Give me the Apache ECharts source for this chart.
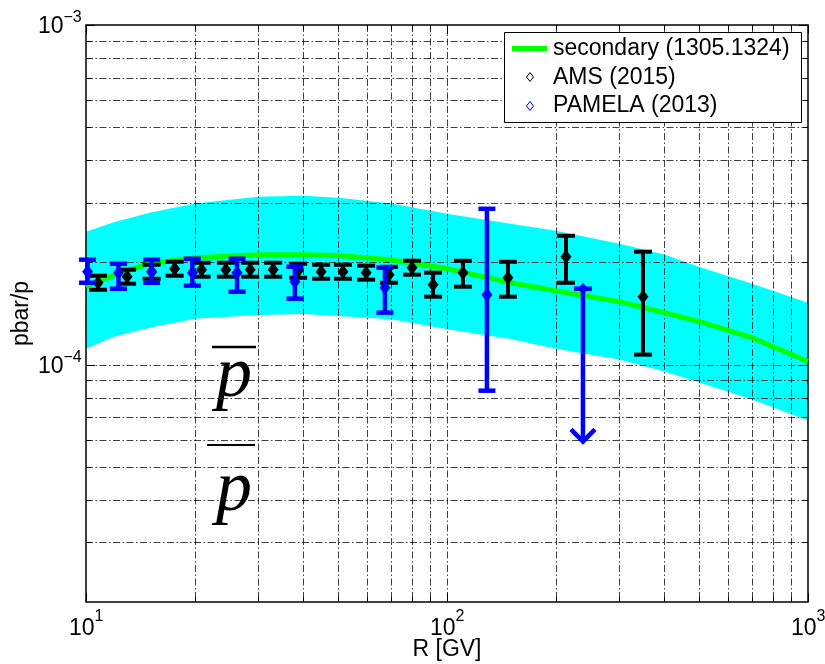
<!DOCTYPE html>
<html><head><meta charset="utf-8">
<script src="https://cdn.jsdelivr.net/npm/echarts@6/dist/echarts.min.js"></script>
<style>html,body{margin:0;padding:0;background:#fff}#c{width:825px;height:664px}</style>
</head><body><div id="c"></div>
<script>
// ---- axis ranges / ticks ----
const xMin = 10, xMax = 1000, yMin = 2e-5, yMax = 1e-3;
const xMajor = [10, 100, 1000];
const xMinor = [20,30,40,50,60,70,80,90,200,300,400,500,600,700,800,900];
const yMajor = [1e-4, 1e-3];
const yMinor = [3e-5,4e-5,5e-5,6e-5,7e-5,8e-5,9e-5,2e-4,3e-4,4e-4,5e-4,6e-4,7e-4,8e-4,9e-4];
const xLabelExp = [1, 2, 3];
const yLabelExp = [-4, -3];

// ---- secondary model (1305.1324): central curve and uncertainty band ----
const modelR   = [10,12,15,20,30,40,50,70,100,150,200,300,400,500,700,1000];
const modelMid = [1.696e-4,1.840e-4,1.982e-4,2.065e-4,2.108e-4,2.108e-4,2.094e-4,2.037e-4,1.916e-4,1.743e-4,1.651e-4,1.533e-4,1.423e-4,1.338e-4,1.200e-4,1.021e-4];
const modelHi  = [2.46e-4,2.63e-4,2.80e-4,2.98e-4,3.12e-4,3.14e-4,3.10e-4,2.98e-4,2.78e-4,2.60e-4,2.48e-4,2.27e-4,2.11e-4,1.94e-4,1.73e-4,1.52e-4];
const modelLo  = [1.114e-4,1.21e-4,1.285e-4,1.365e-4,1.40e-4,1.41e-4,1.39e-4,1.36e-4,1.27e-4,1.19e-4,1.114e-4,1.035e-4,9.54e-5,8.86e-5,7.89e-5,6.85e-5];

// ---- AMS (2015) ----
const amsR   = [10.8,13.0,15.2,17.6,20.9,24.4,28.5,33.0,38.7,44.8,51.5,59.7,69.1,80.0,91.5,110.7,147.5,213.6,349];
const amsVal = [1.742e-4,1.815e-4,1.877e-4,1.916e-4,1.903e-4,1.903e-4,1.903e-4,1.903e-4,1.890e-4,1.877e-4,1.877e-4,1.865e-4,1.839e-4,1.929e-4,1.719e-4,1.865e-4,1.803e-4,2.078e-4,1.585e-4];
const amsLo  = [1.661e-4,1.731e-4,1.790e-4,1.827e-4,1.815e-4,1.815e-4,1.815e-4,1.815e-4,1.802e-4,1.790e-4,1.790e-4,1.779e-4,1.742e-4,1.840e-4,1.585e-4,1.696e-4,1.585e-4,1.742e-4,1.070e-4];
const amsHi  = [1.827e-4,1.903e-4,1.968e-4,2.009e-4,1.995e-4,1.995e-4,1.995e-4,1.995e-4,1.982e-4,1.968e-4,1.968e-4,1.956e-4,1.941e-4,2.023e-4,1.865e-4,2.022e-4,2.008e-4,2.395e-4,2.150e-4];

// ---- PAMELA (2013) ----
const pamR   = [10.1,12.3,15.2,19.7,26.2,37.9,67.3,129];
const pamVal = [1.877e-4,1.865e-4,1.877e-4,1.865e-4,1.865e-4,1.755e-4,1.684e-4,1.607e-4];
const pamLo  = [1.742e-4,1.673e-4,1.742e-4,1.708e-4,1.639e-4,1.564e-4,1.423e-4,0.838e-4];
const pamHi  = [2.037e-4,1.982e-4,2.037e-4,2.050e-4,2.050e-4,1.943e-4,1.929e-4,2.876e-4];
// upper limit point: [R, top, arrow tip]
const pamLimR = [238];
const pamLimTop = [1.673e-4];
const pamLimTip = [5.94e-5];

const FONT = '"Liberation Sans", Helvetica, Arial, sans-serif';
const SERIF = 'italic 72px "Liberation Serif", "Times New Roman", serif';

const chart = echarts.init(document.getElementById('c'), null, {renderer: 'canvas'});

function bandRender(params, api) {
  const pts = [];
  for (let i = 0; i < modelR.length; i++) pts.push(api.coord([modelR[i], modelHi[i]]));
  for (let i = modelR.length - 1; i >= 0; i--) pts.push(api.coord([modelR[i], modelLo[i]]));
  return {type: 'polygon', shape: {points: pts}, style: {fill: '#00ffff'}};
}

function decoRender(params, api) {
  const tl = api.coord([xMin, yMax]), br = api.coord([xMax, yMin]);
  const L = tl[0], T = tl[1], R = br[0], B = br[1];
  const ch = [];
  const gs = {stroke: 'rgba(0,0,0,0.75)', lineWidth: 1, lineDash: [7, 2.5, 1.5, 2.5], fill: null};
  const ts = {stroke: '#000', lineWidth: 1};
  xMinor.concat([100]).forEach(v => {
    const x = Math.round(api.coord([v, yMin])[0]) + 0.5;
    ch.push({type: 'line', shape: {x1: x, y1: T, x2: x, y2: B}, style: gs});
  });
  yMinor.concat([1e-4]).forEach(v => {
    const y = Math.round(api.coord([xMin, v])[1]) + 0.5;
    ch.push({type: 'line', shape: {x1: L, y1: y, x2: R, y2: y}, style: gs});
  });
  // ticks
  xMinor.forEach(v => {
    const x = Math.round(api.coord([v, yMin])[0]) + 0.5;
    ch.push({type: 'line', shape: {x1: x, y1: B, x2: x, y2: B - 5}, style: ts});
    ch.push({type: 'line', shape: {x1: x, y1: T, x2: x, y2: T + 5}, style: ts});
  });
  xMajor.forEach(v => {
    const x = Math.round(api.coord([v, yMin])[0]) + 0.5;
    ch.push({type: 'line', shape: {x1: x, y1: B, x2: x, y2: B - 9}, style: ts});
    ch.push({type: 'line', shape: {x1: x, y1: T, x2: x, y2: T + 9}, style: ts});
  });
  yMinor.forEach(v => {
    const y = Math.round(api.coord([xMin, v])[1]) + 0.5;
    ch.push({type: 'line', shape: {x1: L, y1: y, x2: L + 5, y2: y}, style: ts});
    ch.push({type: 'line', shape: {x1: R, y1: y, x2: R - 5, y2: y}, style: ts});
  });
  yMajor.forEach(v => {
    const y = Math.round(api.coord([xMin, v])[1]) + 0.5;
    ch.push({type: 'line', shape: {x1: L, y1: y, x2: L + 9, y2: y}, style: ts});
    ch.push({type: 'line', shape: {x1: R, y1: y, x2: R - 9, y2: y}, style: ts});
  });
  ch.push({type: 'rect', shape: {x: L, y: T, width: R - L, height: B - T}, style: {fill: null, stroke: '#000', lineWidth: 1.5}});
  // tick labels
  xLabelExp.forEach(e => {
    const x = api.coord([Math.pow(10, e), yMin])[0];
    ch.push({type: 'text', x: x + 8.5, y: B + 27, style: {text: '10', font: '23px ' + FONT, fill: '#000', align: 'right', verticalAlign: 'middle'}});
    ch.push({type: 'text', x: x + 8.5, y: B + 15, style: {text: String(e), font: '16px ' + FONT, fill: '#000', align: 'left', verticalAlign: 'middle'}});
  });
  yLabelExp.forEach(e => {
    const y = api.coord([xMin, Math.pow(10, e)])[1];
    ch.push({type: 'text', x: L - 22.5, y: y + 2, style: {text: '10', font: '23px ' + FONT, fill: '#000', align: 'right', verticalAlign: 'middle'}});
    ch.push({type: 'text', x: L - 22.5, y: y - 7.5, style: {text: '\u2212' + Math.abs(e), font: '16px ' + FONT, fill: '#000', align: 'left', verticalAlign: 'middle'}});
  });
  // axis names
  ch.push({type: 'text', x: (L + R) / 2, y: B + 48, style: {text: 'R [GV]', font: '23px ' + FONT, fill: '#000', align: 'center', verticalAlign: 'middle'}});
  ch.push({type: 'text', x: 22, y: (T + B) / 2, rotation: Math.PI / 2, style: {text: 'pbar/p', font: '23px ' + FONT, fill: '#000', align: 'center', verticalAlign: 'middle'}});
  return {type: 'group', children: ch};
}

function errRender(color, capW, lw, dW, dH) {
  return function (params, api) {
    const x = api.value(0), v = api.value(1), lo = api.value(2), hi = api.value(3);
    const pc = api.coord([x, v]), pl = api.coord([x, lo]), ph = api.coord([x, hi]);
    const cx = pc[0], cy = pc[1];
    const st = {stroke: color, lineWidth: lw, fill: null};
    return {type: 'group', children: [
      {type: 'line', shape: {x1: cx, y1: ph[1], x2: cx, y2: pl[1]}, style: st},
      {type: 'line', shape: {x1: cx - capW / 2, y1: ph[1], x2: cx + capW / 2, y2: ph[1]}, style: st},
      {type: 'line', shape: {x1: cx - capW / 2, y1: pl[1], x2: cx + capW / 2, y2: pl[1]}, style: st},
      {type: 'polygon', shape: {points: [[cx, cy - dH / 2], [cx + dW / 2, cy], [cx, cy + dH / 2], [cx - dW / 2, cy]]}, style: {fill: color}}
    ]};
  };
}

function limRender(params, api) {
  const x = api.value(0), top = api.value(1), tip = api.value(2);
  const pt = api.coord([x, top]), pb = api.coord([x, tip]);
  const cx = pt[0];
  const st = {stroke: '#0000ff', lineWidth: 4.5, fill: null};
  return {type: 'group', children: [
    {type: 'line', shape: {x1: cx, y1: pt[1], x2: cx, y2: pb[1]}, style: st},
    {type: 'line', shape: {x1: cx - 9, y1: pt[1], x2: cx + 9, y2: pt[1]}, style: st},
    {type: 'polygon', shape: {points: [[cx, pt[1] - 6], [cx + 5, pt[1]], [cx, pt[1] + 6], [cx - 5, pt[1]]]}, style: {fill: '#0000ff'}},
    {type: 'polyline', shape: {points: [[cx - 12, pb[1] - 12], [cx, pb[1]], [cx + 12, pb[1] - 12]]}, style: st}
  ]};
}

const option = {
  animation: false,
  backgroundColor: '#fff',
  grid: {left: 86, top: 25, right: 17, bottom: 62, containLabel: false},
  xAxis: {type: 'log', logBase: 10, min: xMin, max: xMax,
    axisLine: {show: false}, axisTick: {show: false}, axisLabel: {show: false}, splitLine: {show: false}},
  yAxis: {type: 'log', logBase: 10, min: yMin, max: yMax,
    axisLine: {show: false}, axisTick: {show: false}, axisLabel: {show: false}, splitLine: {show: false}},
  series: [
    {type: 'custom', name: 'band', renderItem: bandRender, data: [[modelR[0], modelMid[0]]], z: 1, clip: true, silent: true},
    {type: 'custom', name: 'axes', renderItem: decoRender, data: [[xMin, yMax]], z: 2, clip: false, silent: true},
    {type: 'line', name: 'secondary (1305.1324)', data: modelR.map((r, i) => [r, modelMid[i]]),
      showSymbol: false, symbol: 'none', lineStyle: {color: '#00ff00', width: 5}, z: 3, clip: true},
    {type: 'custom', name: 'AMS (2015)', renderItem: errRender('#000000', 18, 4, 11, 14),
      data: amsR.map((r, i) => [r, amsVal[i], amsLo[i], amsHi[i]]), encode: {x: 0, y: 1}, z: 4},
    {type: 'custom', name: 'PAMELA (2013)', renderItem: errRender('#0000ff', 17, 4.5, 11, 14),
      data: pamR.map((r, i) => [r, pamVal[i], pamLo[i], pamHi[i]]), encode: {x: 0, y: 1}, z: 5},
    {type: 'custom', name: 'PAMELA limit', renderItem: limRender,
      data: pamLimR.map((r, i) => [r, pamLimTop[i], pamLimTip[i]]), encode: {x: 0, y: 1}, z: 5}
  ],
  graphic: [
    {type: 'rect', z: 100, shape: {x: 504.5, y: 32.5, width: 297, height: 90}, style: {fill: '#fff', stroke: '#000', lineWidth: 1}},
    {type: 'line', z: 101, shape: {x1: 512, y1: 48.5, x2: 547, y2: 48.5}, style: {stroke: '#00ff00', lineWidth: 5}},
    {type: 'polygon', z: 101, shape: {points: [[530, 72.5], [533.5, 77], [530, 81.5], [526.5, 77]]}, style: {fill: '#fff', stroke: '#000', lineWidth: 1}},
    {type: 'polygon', z: 101, shape: {points: [[530, 101.5], [533.5, 106], [530, 110.5], [526.5, 106]]}, style: {fill: '#fff', stroke: '#0000ff', lineWidth: 1}},
    {type: 'text', z: 101, x: 553, y: 49, style: {text: 'secondary (1305.1324)', font: '23px ' + FONT, fill: '#000', align: 'left', verticalAlign: 'middle'}},
    {type: 'text', z: 101, x: 553, y: 77.5, style: {text: 'AMS (2015)', font: '23px ' + FONT, fill: '#000', align: 'left', verticalAlign: 'middle'}},
    {type: 'text', z: 101, x: 553, y: 106, style: {text: 'PAMELA (2013)', font: '23px ' + FONT, fill: '#000', align: 'left', verticalAlign: 'middle'}},
    // p-bar / p annotation
    {type: 'line', z: 101, shape: {x1: 212, y1: 347, x2: 256, y2: 347}, style: {stroke: '#000', lineWidth: 2.5}},
    {type: 'text', z: 101, x: 234, y: 377, style: {text: 'p', font: SERIF, fill: '#000', align: 'center', verticalAlign: 'middle'}},
    {type: 'line', z: 101, shape: {x1: 207, y1: 445, x2: 255, y2: 445}, style: {stroke: '#000', lineWidth: 2}},
    {type: 'text', z: 101, x: 234, y: 491, style: {text: 'p', font: SERIF, fill: '#000', align: 'center', verticalAlign: 'middle'}}
  ]
};
chart.setOption(option);
</script>
</body></html>
